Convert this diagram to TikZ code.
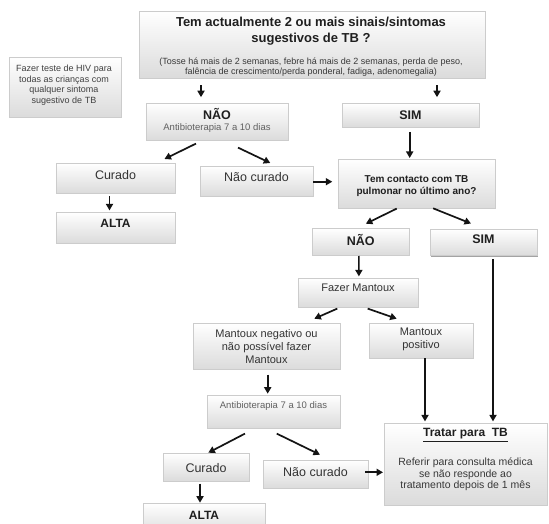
\documentclass[tikz,border=0pt]{standalone}
\usepackage{fontspec}
\setmainfont{Liberation Sans}
\usetikzlibrary{arrows.meta,shadows}

\tikzset{
  box/.style={draw=black!20, line width=0.6pt, top color=white, bottom color=black!14,
    drop shadow={shadow xshift=0.4pt, shadow yshift=-1.1pt, fill=black!45, opacity=0.8},
    inner sep=0pt},
  txt/.style={align=center, inner sep=0pt, text=black!88},
  big/.style={txt, font=\fontsize{12.5}{14}\selectfont\bfseries},
  mid/.style={txt, font=\fontsize{12.5}{14}\selectfont, text=black!80},
  norm/.style={txt, font=\fontsize{11}{13}\selectfont, text=black!80},
  small/.style={txt, font=\fontsize{9.5}{11}\selectfont, text=black!62},
  arr/.style={line width=1.7pt, black!92, -{Triangle[length=6.5pt,width=7pt]}},
}

\begin{document}
\begin{tikzpicture}[x=1pt,y=-1pt]
\useasboundingbox (0,0) rectangle (549,524);
\fill[white] (0,0) rectangle (549,524);
\clip (0,0) rectangle (549,524);

% boxes
\node[box, minimum width=346pt, minimum height=67pt] (top) at (312,44.5) {};
\node[box, minimum width=112pt, minimum height=60pt] (hiv) at (65.5,87) {};
\node[box, minimum width=142pt, minimum height=37pt] (nao1) at (217,121.5) {};
\node[box, minimum width=137pt, minimum height=24pt] (sim1) at (410.5,115) {};
\node[box, minimum width=119pt, minimum height=30pt] (cur1) at (115.5,178) {};
\node[box, minimum width=113pt, minimum height=30pt] (nc1) at (256.5,181) {};
\node[box, minimum width=119pt, minimum height=31pt] (alta1) at (115.5,227.5) {};
\node[box, minimum width=157pt, minimum height=49pt] (contact) at (416.5,183.5) {};
\node[box, minimum width=96.5pt, minimum height=26.5pt] (nao2) at (360.75,241.75) {};
\node[box, minimum width=107pt, minimum height=26.5pt] (sim2) at (484,242.25) {};
\node[box, minimum width=120pt, minimum height=29pt] (mantoux) at (358,292.5) {};
\node[box, minimum width=147pt, minimum height=46pt] (neg) at (266.5,346) {};
\node[box, minimum width=104pt, minimum height=35pt] (pos) at (421,340.5) {};
\node[box, minimum width=133pt, minimum height=33pt] (ab2) at (273.5,411.5) {};
\node[box, minimum width=163pt, minimum height=82pt] (tratar) at (465.5,464) {};
\node[box, minimum width=86pt, minimum height=28pt] (cur2) at (206,467) {};
\node[box, minimum width=105pt, minimum height=28pt] (nc2) at (315.5,474) {};
\node[box, minimum width=122pt, minimum height=32pt] (alta2) at (204,519) {};

% texts
\node[txt, font=\fontsize{13}{15.5}\selectfont\bfseries] (toptitle) at (311,31)
  {Tem actualmente 2 ou mais sinais/sintomas\\sugestivos de TB ?};
\node[txt, font=\fontsize{9}{10}\selectfont, text=black!78] (topsub) at (311,67)
  {(Tosse há mais de 2 semanas, febre há mais de 2 semanas, perda de peso,\\falência de crescimento/perda ponderal, fadiga, adenomegalia)};
\node[txt, font=\fontsize{9}{10.5}\selectfont, text=black!75] (hivt) at (64,85)
  {Fazer teste de HIV para\\todas as crianças com\\qualquer sintoma\\sugestivo de TB};
\node[big] (nao1t) at (217,114.3) {NÃO};
\node[small] (nao1s) at (217,128.3) {Antibioterapia 7 a 10 dias};
\node[big] (sim1t) at (410.5,115) {SIM};
\node[mid] (cur1t) at (115.5,175) {Curado};
\node[mid] (nc1t) at (256.5,177.3) {Não curado};
\node[big, font=\fontsize{12}{14}\selectfont\bfseries] (alta1t) at (115.5,223.3) {ALTA};
\node[txt, font=\fontsize{10}{11.5}\selectfont\bfseries] (contactt) at (416.5,186.3)
  {Tem contacto com TB\\pulmonar no último ano?};
\node[big] (nao2t) at (360.75,239.5) {NÃO};
\node[big] (sim2t) at (483.5,239.5) {SIM};
\node[norm] (mantouxt) at (358,288) {Fazer Mantoux};
\node[norm] (negt) at (266.5,346.3) {Mantoux negativo ou\\não possível fazer\\Mantoux};
\node[norm] (post) at (421,339.7) {Mantoux\\positivo};
\node[small] (ab2t) at (273.5,406) {Antibioterapia 7 a 10 dias};
\node[txt, font=\fontsize{12}{14}\selectfont\bfseries] (tratart) at (465.5,435)
  {\underline{Tratar para\ \ TB}};
\node[txt, font=\fontsize{10.5}{11.5}\selectfont, text=black!78] (tratars) at (465.5,474.4)
  {Referir para consulta médica\\se não responde ao\\tratamento depois de 1 mês};
\node[mid] (cur2t) at (206,468.3) {Curado};
\node[mid] (nc2t) at (315.5,471.7) {Não curado};
\node[big, font=\fontsize{12}{14}\selectfont\bfseries] (alta2t) at (204,515) {ALTA};

% connectors
\draw[arr] ([xshift=-111pt,yshift=-7pt]top.south) -- ([xshift=-16pt,yshift=5.5pt]nao1.north);
\draw[arr] ([xshift=125pt,yshift=-7pt]top.south) -- ([xshift=26.5pt,yshift=5.5pt]sim1.north);
\draw[arr] ([xshift=-21pt,yshift=-3.3pt]nao1.south) -- ([xshift=49pt,yshift=3.7pt]cur1.north);
\draw[arr] ([xshift=21pt,yshift=-7.3pt]nao1.south) -- ([xshift=13.8pt,yshift=2.7pt]nc1.north);
\draw[arr] ([xshift=-6pt,yshift=-3pt]cur1.south) -- ([xshift=-6pt,yshift=1.3pt]alta1.north);
\draw[arr] ([yshift=-0.7pt]nc1.east) -- ([xshift=-5.4pt,yshift=1.8pt]contact.west);
\draw[arr] ([xshift=-0.8pt,yshift=-4.7pt]sim1.south) -- ([xshift=-6.8pt,yshift=0.7pt]contact.north);
\draw[arr] ([xshift=-19.8pt,yshift=-0.3pt]contact.south) -- ([xshift=5.1pt,yshift=4.5pt]nao2.north);
\draw[arr] ([xshift=16.6pt]contact.south) -- ([xshift=-13pt,yshift=5.2pt]sim2.north);
\draw[arr] ([xshift=-1.9pt,yshift=-0.7pt]nao2.south) -- ([xshift=0.9pt,yshift=1.3pt]mantoux.north);
\draw[arr] ([xshift=9pt,yshift=-3.3pt]sim2.south) -- ([xshift=27.5pt,yshift=1.3pt]tratar.north);
\draw[arr] ([xshift=-20.7pt,yshift=-1.3pt]mantoux.south) -- ([xshift=47.8pt,yshift=4pt]neg.north);
\draw[arr] ([xshift=9.7pt,yshift=-1.3pt]mantoux.south) -- ([xshift=-24.3pt,yshift=4pt]pos.north);
\draw[arr] ([xshift=1.2pt,yshift=-5.3pt]neg.south) -- ([xshift=-5.8pt,yshift=1pt]ab2.north);
\draw[arr] ([xshift=4pt]pos.south) -- ([xshift=-40.5pt,yshift=1.3pt]tratar.north);
\draw[arr] ([xshift=-28.5pt,yshift=-5.3pt]ab2.south) -- ([xshift=2.3pt,yshift=0pt]cur2.north);
\draw[arr] ([xshift=3.2pt,yshift=-5.3pt]ab2.south) -- ([xshift=4.5pt,yshift=5pt]nc2.north);
\draw[arr] ([xshift=-3pt,yshift=1.7pt]nc2.east) -- ([xshift=-0.7pt,yshift=-8.3pt]tratar.west);
\draw[arr] ([xshift=-6pt,yshift=-2.3pt]cur2.south) -- ([xshift=-4pt]alta2.north);
\end{tikzpicture}
\end{document}
